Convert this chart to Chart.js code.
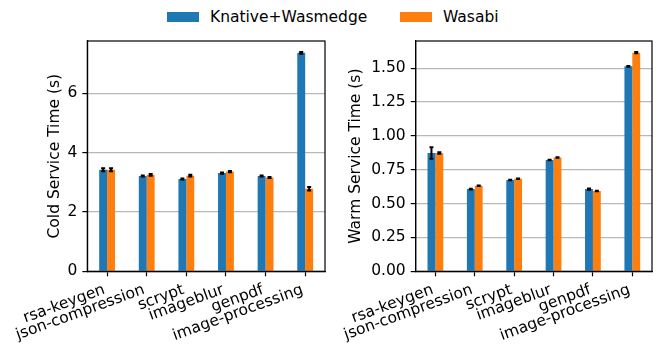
<!DOCTYPE html>
<html>
<head>
<meta charset="utf-8">
<script src="https://cdn.jsdelivr.net/npm/chart.js@4/dist/chart.umd.min.js"></script>
<style>
  html, body { margin: 0; padding: 0; background: #fff; }
  #wrap { position: relative; width: 657px; height: 345px; overflow: hidden; font-family: "DejaVu Sans", sans-serif; }
  .panel { position: absolute; top: 0; height: 345px; }
  .swatch { position: absolute; top: 11.5px; width: 32px; height: 10.5px; }
  .ltext { position: absolute; top: 6.5px; line-height: 20px; font-size: 15.5px; color: #000; white-space: nowrap; }
</style>
</head>
<body>
<div id="wrap">
  <div class="swatch" style="left:167px; background:#1f77b4;"></div>
  <div class="ltext" style="left:210px;">Knative+Wasmedge</div>
  <div class="swatch" style="left:400px; background:#ff7f0e;"></div>
  <div class="ltext" style="left:443px;">Wasabi</div>
  <div class="panel" style="left:0; width:330px;"><canvas id="cold" width="330" height="345"></canvas></div>
  <div class="panel" style="left:330px; width:327px;"><canvas id="warm" width="327" height="345"></canvas></div>
</div>
<script>
// Benchmarked functions
const categories = ['rsa-keygen', 'json-compression', 'scrypt', 'imageblur', 'genpdf', 'image-processing'];
const seriesNames = ['Knative+Wasmedge', 'Wasabi'];

// Cold service time (s): mean and error
const coldKnative = [3.42, 3.21, 3.11, 3.31, 3.21, 7.36];
const coldKnativeErr = [0.05, 0.02, 0.02, 0.02, 0.02, 0.03];
const coldWasabi = [3.42, 3.25, 3.22, 3.36, 3.16, 2.78];
const coldWasabiErr = [0.05, 0.03, 0.03, 0.02, 0.02, 0.06];

// Warm service time (s): mean and error
const warmKnative = [0.874, 0.607, 0.674, 0.822, 0.607, 1.514];
const warmKnativeErr = [0.042, 0.003, 0.002, 0.002, 0.004, 0.003];
const warmWasabi = [0.874, 0.632, 0.684, 0.840, 0.593, 1.615];
const warmWasabiErr = [0.005, 0.002, 0.002, 0.002, 0.002, 0.005];

// Axis tick values
const coldTicks = [0, 2, 4, 6];
const warmTicks = [0, 0.25, 0.5, 0.75, 1.0, 1.25, 1.5];

const BLUE = '#1f77b4';
const ORANGE = '#ff7f0e';
const FONT_SIZE = 15.5;
const FONT = { family: "'DejaVu Sans', sans-serif", size: FONT_SIZE };
const LABEL_ROTATION = 20; // degrees

// Draws the four-sided axes frame
const framePlugin = {
  id: 'frame',
  afterDatasetsDraw(chart) {
    const { ctx, chartArea: a } = chart;
    ctx.save();
    ctx.strokeStyle = '#000';
    ctx.lineWidth = 1.2;
    ctx.strokeRect(a.left, a.top, a.right - a.left, a.bottom - a.top);
    ctx.restore();
  }
};

// Draws symmetric error bars with small caps on every bar
const errorBarPlugin = {
  id: 'errorBars',
  afterDatasetsDraw(chart) {
    const { ctx } = chart;
    const y = chart.scales.y;
    ctx.save();
    ctx.strokeStyle = '#000';
    ctx.lineWidth = 2;
    chart.data.datasets.forEach((ds, di) => {
      const meta = chart.getDatasetMeta(di);
      meta.data.forEach((bar, i) => {
        const v = ds.data[i];
        const e = ds.errors[i];
        const yTop = y.getPixelForValue(v + e);
        const yBot = y.getPixelForValue(v - e);
        ctx.beginPath();
        ctx.moveTo(bar.x, yTop - 0.6);
        ctx.lineTo(bar.x, yBot + 0.6);
        ctx.moveTo(bar.x - 2, yTop);
        ctx.lineTo(bar.x + 2, yTop);
        ctx.moveTo(bar.x - 2, yBot);
        ctx.lineTo(bar.x + 2, yBot);
        ctx.stroke();
      });
    });
    ctx.restore();
  }
};

// Rotated category labels, right end of the rotated box anchored under each tick
const xLabelPlugin = {
  id: 'xLabels',
  afterDraw(chart) {
    const { ctx } = chart;
    const xs = chart.scales.x;
    const th = LABEL_ROTATION * Math.PI / 180;
    const c = Math.cos(th), s = Math.sin(th);
    const asc = 0.76 * FONT_SIZE;
    const H = asc + 0.24 * FONT_SIZE;
    const ay = chart.chartArea.bottom + 10.85;
    ctx.save();
    ctx.font = Chart.helpers.toFont(FONT).string;
    ctx.fillStyle = '#000';
    ctx.textAlign = 'left';
    ctx.textBaseline = 'alphabetic';
    chart.data.labels.forEach((lab, i) => {
      const ax = xs.getPixelForTick(i);
      const w = ctx.measureText(lab).width;
      const ox = ax - w * c - H * s;
      const oy = ay + w * s;
      ctx.save();
      ctx.translate(ox, oy);
      ctx.rotate(-th);
      ctx.fillText(lab, 0, asc);
      ctx.restore();
    });
    ctx.restore();
  }
};

function axisMax(a, ae, b, be) {
  let m = 0;
  a.forEach((v, i) => { m = Math.max(m, v + ae[i]); });
  b.forEach((v, i) => { m = Math.max(m, v + be[i]); });
  return m * 1.05;
}

function makeChart(id, title, a, ae, b, be, ticks, decimals, yWidth, titlePad) {
  return new Chart(document.getElementById(id), {
    type: 'bar',
    data: {
      labels: categories,
      datasets: [
        { label: seriesNames[0], data: a, errors: ae, backgroundColor: BLUE, borderWidth: 0 },
        { label: seriesNames[1], data: b, errors: be, backgroundColor: ORANGE, borderWidth: 0 }
      ]
    },
    options: {
      responsive: false,
      animation: false,
      devicePixelRatio: 1,
      categoryPercentage: 0.4,
      barPercentage: 1.0,
      layout: { padding: { left: 0, right: 5, top: 41, bottom: 0 } },
      plugins: { legend: { display: false }, tooltip: { enabled: false } },
      scales: {
        x: {
          offset: true,
          grid: { display: true, drawOnChartArea: false, offset: false, drawTicks: true, tickLength: 5, tickColor: '#000', tickWidth: 1.2 },
          border: { display: true, color: '#000', width: 1.2 },
          ticks: { display: false, autoSkip: false },
          afterFit: (s) => { s.height = 73.7; }
        },
        y: {
          min: 0,
          max: axisMax(a, ae, b, be),
          grid: { color: '#b8b8b8', lineWidth: 1.2, drawTicks: true, tickLength: 5, tickColor: '#000', tickWidth: 1.2 },
          border: { display: true, color: '#000', width: 1.2 },
          ticks: {
            font: FONT, color: '#000', padding: 5,
            callback: (v) => Number(v).toFixed(decimals)
          },
          afterBuildTicks: (s) => { s.ticks = ticks.map((v) => ({ value: v })); },
          title: { display: true, text: title, font: FONT, color: '#000', padding: { top: titlePad, bottom: 0 } },
          afterFit: (s) => { s.width = yWidth; }
        }
      }
    },
    plugins: [framePlugin, errorBarPlugin, xLabelPlugin]
  });
}

makeChart('cold', 'Cold Service Time (s)', coldKnative, coldKnativeErr, coldWasabi, coldWasabiErr, coldTicks, 0, 87.3, 45.2);
makeChart('warm', 'Warm Service Time (s)', warmKnative, warmKnativeErr, warmWasabi, warmWasabiErr, warmTicks, 2, 85.7, 16.2);
</script>
</body>
</html>
